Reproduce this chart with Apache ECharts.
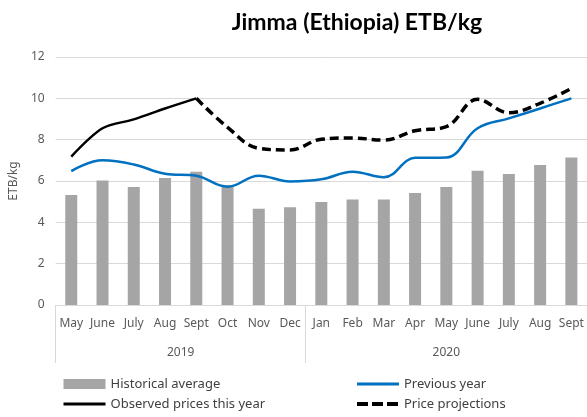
<!DOCTYPE html>
<html>
<head>
<meta charset="utf-8">
<script src="https://cdn.jsdelivr.net/npm/echarts@6/dist/echarts.min.js"></script>
<style>
  html, body { margin: 0; padding: 0; background: #fff; }
  #chart { width: 587px; height: 417px; }
</style>
</head>
<body>
<div id="chart"></div>
<script>
// Monthly price series, May 2019 – Sept 2020 (ETB/kg)
const months = ['May', 'June', 'July', 'Aug', 'Sept', 'Oct', 'Nov', 'Dec',
                'Jan', 'Feb', 'Mar', 'Apr', 'May', 'June', 'July', 'Aug', 'Sept'];
const years = ['2019', '2020'];
const yearSpans = [8, 9];   // number of months under each year label

const historicalAverage = [5.32, 6.02, 5.71, 6.14, 6.45, 5.8, 4.66, 4.73,
                           4.98, 5.1, 5.1, 5.42, 5.71, 6.5, 6.34, 6.77, 7.14];
const previousYear = [6.48, 7.0, 6.8, 6.35, 6.25, 5.72, 6.26, 5.98,
                      6.08, 6.45, 6.18, 7.12, 7.14, 8.55, 9.03, 9.51, 10.0];
const observedPrices = [7.18, 8.55, 8.98, 9.51, 10.0, null, null, null,
                        null, null, null, null, null, null, null, null, null];
const priceProjections = [null, null, null, null, 10.0, 8.6, 7.58, 7.5,
                          8.02, 8.08, 7.98, 8.43, 8.63, 9.95, 9.3, 9.76, 10.48];

const yTicks = { min: 0, max: 12, interval: 2 };

// Boundaries and centres of the year groups on a 0..N value scale
const bounds = [0];
yearSpans.forEach(s => bounds.push(bounds[bounds.length - 1] + s));
const centers = yearSpans.map((s, i) => bounds[i] + s / 2);

const baseFont = 'Noto Sans';
const legendText = { fontFamily: baseFont, fontSize: 13, color: '#404040', lineHeight: 18 };
const hiddenMarker = { opacity: 0 };   // line legend items show only the stroke

const chart = echarts.init(document.getElementById('chart'), null, { renderer: 'canvas' });

chart.setOption({
  animation: false,
  backgroundColor: '#ffffff',
  title: {
    text: 'Jimma (Ethiopia) ETB/kg',
    left: 352,
    textAlign: 'center',
    top: 6,
    textStyle: { fontFamily: 'Lato', fontWeight: 'bold', fontSize: 23, color: '#000' }
  },
  grid: { left: 52, right: 0, top: 57, bottom: 112, containLabel: false },
  legend: [
    {
      left: 62, top: 375, orient: 'vertical', itemGap: 2,
      itemWidth: 42, itemHeight: 10, padding: 0,
      textStyle: legendText,
      data: [
        { name: 'Historical average', icon: 'rect' },
        { name: 'Observed prices this year', itemStyle: hiddenMarker, lineStyle: { width: 3 } }
      ]
    },
    {
      left: 355, top: 375, orient: 'vertical', itemGap: 2,
      itemWidth: 42, itemHeight: 10, padding: 0,
      textStyle: legendText,
      data: [
        { name: 'Previous year', itemStyle: hiddenMarker, lineStyle: { width: 3 } },
        { name: 'Price projections', itemStyle: hiddenMarker, lineStyle: { width: 4, type: [11, 4] } }
      ]
    }
  ],
  xAxis: [
    {
      type: 'category',
      data: months,
      boundaryGap: true,
      axisLine: { show: true, lineStyle: { color: '#d9d9d9', width: 1 } },
      axisTick: { show: false },
      axisLabel: { margin: 13, fontFamily: baseFont, fontSize: 12, color: '#595959', interval: 0 },
      splitLine: { show: false }
    },
    {
      type: 'value',
      position: 'bottom',
      min: 0,
      max: bounds[bounds.length - 1],
      axisLine: { show: false },
      axisTick: {
        show: true, inside: false, length: 58,
        customValues: bounds,
        lineStyle: { color: '#d9d9d9', width: 1 }
      },
      axisLabel: {
        show: true, margin: 42,
        customValues: centers,
        formatter: v => years[centers.indexOf(v)] || '',
        fontFamily: baseFont, fontSize: 12, color: '#595959'
      },
      splitLine: { show: false }
    }
  ],
  yAxis: {
    type: 'value',
    min: yTicks.min, max: yTicks.max, interval: yTicks.interval,
    name: 'ETB/kg',
    nameLocation: 'middle',
    nameGap: 34,
    nameRotate: 90,
    nameTextStyle: { fontFamily: baseFont, fontSize: 12, color: '#595959' },
    axisLine: { show: false },
    axisTick: { show: false },
    axisLabel: { margin: 11, fontFamily: baseFont, fontSize: 12, color: '#595959' },
    splitLine: { lineStyle: { color: '#d9d9d9', width: 1 } }
  },
  series: [
    {
      name: 'Historical average',
      type: 'bar',
      data: historicalAverage,
      barWidth: 12,
      itemStyle: { color: '#a5a5a5' },
      z: 1
    },
    {
      name: 'Previous year',
      type: 'line',
      data: previousYear,
      smooth: 0.4,
      symbol: 'none',
      lineStyle: { color: '#0070c0', width: 2.5 },
      itemStyle: { color: '#0070c0' },
      z: 3
    },
    {
      name: 'Observed prices this year',
      type: 'line',
      data: observedPrices,
      smooth: 0.3,
      symbol: 'none',
      connectNulls: false,
      lineStyle: { color: '#000000', width: 2.5 },
      itemStyle: { color: '#000000' },
      z: 4
    },
    {
      name: 'Price projections',
      type: 'line',
      data: priceProjections,
      smooth: 0.4,
      symbol: 'none',
      connectNulls: false,
      lineStyle: { color: '#000000', width: 3.5, type: [9, 5] },
      itemStyle: { color: '#000000' },
      z: 4
    }
  ]
});
</script>
</body>
</html>
